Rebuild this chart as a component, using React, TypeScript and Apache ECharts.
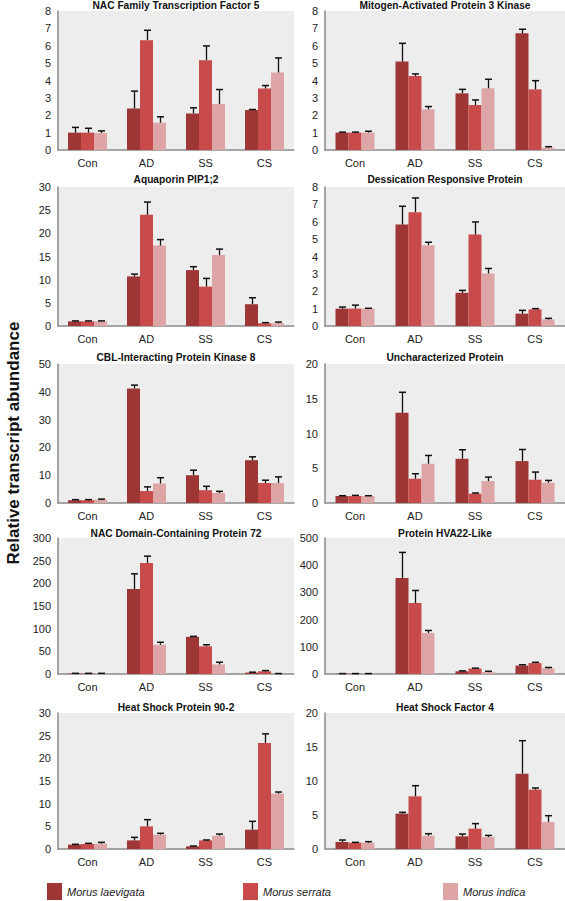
import React, { useEffect, useRef } from "react";
import * as echarts from "echarts";

const categories = ["Con", "AD", "SS", "CS"];
const species = ["Morus laevigata", "Morus serrata", "Morus indica"];
const colors = ["#9e3636", "#c94a4a", "#dda5a5"];

const titles = [
  "NAC Family Transcription Factor 5",
  "Mitogen-Activated Protein 3 Kinase",
  "Aquaporin PIP1;2",
  "Dessication Responsive Protein",
  "CBL-Interacting Protein Kinase 8",
  "Uncharacterized Protein",
  "NAC Domain-Containing Protein 72",
  "Protein HVA22-Like",
  "Heat Shock Protein 90-2",
  "Heat Shock Factor 4",
];
const yMax = [8, 8, 30, 8, 50, 20, 300, 500, 30, 20];
const yInterval = [1, 1, 5, 1, 10, 5, 50, 100, 5, 5];

// values per panel: [laevigata, serrata, indica]
const nac5 = [[1.0, 2.39, 2.1, 2.3], [1.0, 6.32, 5.17, 3.54], [0.98, 1.57, 2.64, 4.46]];
const nac5Err = [[0.3, 1.0, 0.33, 0.03], [0.25, 0.57, 0.82, 0.17], [0.12, 0.34, 0.84, 0.84]];
const mapk3 = [[1.0, 5.09, 3.26, 6.72], [1.0, 4.26, 2.59, 3.49], [1.0, 2.34, 3.55, 0.13]];
const mapk3Err = [[0.03, 1.05, 0.23, 0.23], [0.03, 0.12, 0.29, 0.5], [0.08, 0.16, 0.52, 0.06]];
const aqua = [[1.0, 10.7, 12.07, 4.7], [1.0, 24.0, 8.5, 0.58], [1.0, 17.35, 15.3, 0.6]];
const aquaErr = [[0.1, 0.5, 0.73, 1.4], [0.1, 2.75, 1.77, 0.14], [0.1, 1.3, 1.3, 0.25]];
const desic = [[1.0, 5.84, 1.91, 0.71], [1.0, 6.55, 5.26, 0.96], [1.0, 4.65, 3.02, 0.38]];
const desicErr = [[0.09, 1.05, 0.14, 0.19], [0.2, 0.82, 0.73, 0.04], [0.02, 0.17, 0.29, 0.06]];
const cipk8 = [[1.0, 41.2, 10.0, 15.4], [1.0, 4.3, 4.6, 7.2], [1.2, 7.0, 3.6, 7.2]];
const cipk8Err = [[0.2, 1.2, 1.8, 1.2], [0.2, 1.5, 1.4, 1.0], [0.2, 2.1, 0.6, 2.2]];
const unchar = [[1.0, 12.97, 6.36, 6.03], [1.0, 3.49, 1.34, 3.35], [1.0, 5.65, 3.16, 2.92]];
const uncharErr = [[0.05, 2.96, 1.3, 1.67], [0.1, 0.72, 0.1, 1.1], [0.05, 1.19, 0.57, 0.33]];
const nac72 = [[1, 187.5, 82, 3], [1, 245, 61, 6], [1, 64.5, 21, 0.5]];
const nac72Err = [[0.5, 33.5, 1, 1], [0.5, 15, 3.5, 1.5], [0.5, 5.5, 5, 0.5]];
const hva22 = [[1, 353, 10, 31], [1, 261, 20, 40], [1, 151, 7, 21]];
const hva22Err = [[0.5, 94, 1.5, 3], [0.5, 46, 1.5, 3], [0.5, 9, 3, 3]];
const hsp90 = [[0.96, 1.9, 0.59, 4.26], [1.1, 5.0, 1.9, 23.4], [1.18, 3.16, 2.94, 12.2]];
const hsp90Err = [[0.07, 0.67, 0.07, 1.84], [0.15, 1.47, 0.09, 2.0], [0.29, 0.3, 0.36, 0.37]];
const hsf4 = [[1.03, 5.2, 1.86, 11.08], [0.93, 7.75, 2.99, 8.73], [0.93, 1.96, 1.76, 3.97]];
const hsf4Err = [[0.29, 0.19, 0.34, 4.85], [0.05, 1.56, 0.74, 0.24], [0.15, 0.29, 0.24, 0.93]];

const panelValues = [nac5, mapk3, aqua, desic, cipk8, unchar, nac72, hva22, hsp90, hsf4];
const panelErrors = [nac5Err, mapk3Err, aquaErr, desicErr, cipk8Err, uncharErr, nac72Err, hva22Err, hsp90Err, hsf4Err];

const FONT = "'Liberation Sans', Arial, Helvetica, sans-serif";
const colLeft = [58, 325];
const colWidth = [236, 240];
const rows = [
  [11, 150],
  [187, 326],
  [364, 503],
  [538, 674],
  [713, 849],
];
const titleY = [5, 179, 357, 533, 707];
const BAR_W = 13;

function buildOption() {
  const grid: any[] = [];
  const xAxis: any[] = [];
  const yAxis: any[] = [];
  const series: any[] = [];
  const graphic: any[] = [];

  panelValues.forEach((vals, p) => {
    const col = p % 2;
    const row = Math.floor(p / 2);
    const [t, b] = rows[row];
    grid.push({
      left: colLeft[col],
      top: t,
      width: colWidth[col],
      height: b - t,
      show: true,
      backgroundColor: "#ededed",
      borderWidth: 0,
      containLabel: false,
    });
    xAxis.push({
      type: "category",
      gridIndex: p,
      data: categories,
      axisLine: { show: true, lineStyle: { color: "#8a8a8a", width: 1.5 } },
      axisTick: { show: false },
      axisLabel: { fontSize: 11, color: "#222", margin: 7, fontFamily: FONT },
      splitLine: { show: false },
    });
    yAxis.push({
      type: "value",
      gridIndex: p,
      min: 0,
      max: yMax[p],
      interval: yInterval[p],
      axisLine: { show: true, lineStyle: { color: "#8a8a8a", width: 1.5 } },
      axisTick: { show: false },
      axisLabel: { fontSize: 11, color: "#222", margin: 7, fontFamily: FONT },
      splitLine: { show: false },
    });
    vals.forEach((arr, s) => {
      series.push({
        type: "bar",
        name: species[s],
        xAxisIndex: p,
        yAxisIndex: p,
        data: arr,
        barWidth: BAR_W,
        barGap: "0%",
        itemStyle: { color: colors[s] },
        z: 2,
      });
    });
    vals.forEach((arr, s) => {
      const offset = (s - 1) * BAR_W;
      series.push({
        type: "custom",
        name: species[s] + " error",
        xAxisIndex: p,
        yAxisIndex: p,
        z: 5,
        silent: true,
        data: arr.map((v, i) => [i, v, v + panelErrors[p][s][i]]),
        encode: { x: 0, y: [1, 2] },
        renderItem: (params: any, api: any) => {
          const i = api.value(0);
          const v = api.value(1);
          const top = api.value(2);
          const p0 = api.coord([i, v]);
          const p1 = api.coord([i, top]);
          const x = Math.round(p0[0] + offset) + 0.5;
          return {
            type: "group",
            children: [
              {
                type: "line",
                shape: { x1: x, y1: p0[1], x2: x, y2: p1[1] },
                style: { stroke: "#111", lineWidth: 1.3 },
              },
              {
                type: "line",
                shape: { x1: x - 3.5, y1: p1[1], x2: x + 3.5, y2: p1[1] },
                style: { stroke: "#111", lineWidth: 1.5 },
              },
            ],
          };
        },
      });
    });
    graphic.push({
      type: "text",
      x: colLeft[col] + colWidth[col] / 2,
      y: titleY[row],
      style: {
        text: titles[p],
        textAlign: "center",
        textVerticalAlign: "middle",
        fontSize: 10.2,
        fontWeight: "bold",
        fontFamily: FONT,
        fill: "#111",
      },
    });
  });

  graphic.push({
    type: "text",
    x: 13,
    y: 443,
    rotation: Math.PI / 2,
    style: {
      text: "Relative transcript abundance",
      textAlign: "center",
      textVerticalAlign: "middle",
      fontSize: 17,
      fontWeight: "bold",
      fontFamily: FONT,
      fill: "#111",
    },
  });

  const legendLeft = [47, 243, 443];
  const legend = species.map((name, s) => ({
    data: [name],
    left: legendLeft[s],
    top: 883,
    padding: 0,
    itemWidth: 15,
    itemHeight: 17,
    icon: "rect",
    selectedMode: false,
    textStyle: { fontSize: 11, fontStyle: "italic", color: "#222", fontFamily: FONT },
  }));

  return {
    animation: false,
    backgroundColor: "#ffffff",
    textStyle: { fontFamily: FONT },
    grid,
    xAxis,
    yAxis,
    series,
    graphic,
    legend,
  };
}

export default function App() {
  const ref = useRef<HTMLDivElement>(null);
  useEffect(() => {
    if (!ref.current) return;
    const chart = echarts.init(ref.current, undefined, { renderer: "svg" });
    chart.setOption(buildOption() as any);
    return () => chart.dispose();
  }, []);
  return (
    <div
      ref={ref}
      style={{ position: "absolute", left: 0, top: 0, width: 565, height: 901 }}
    />
  );
}
